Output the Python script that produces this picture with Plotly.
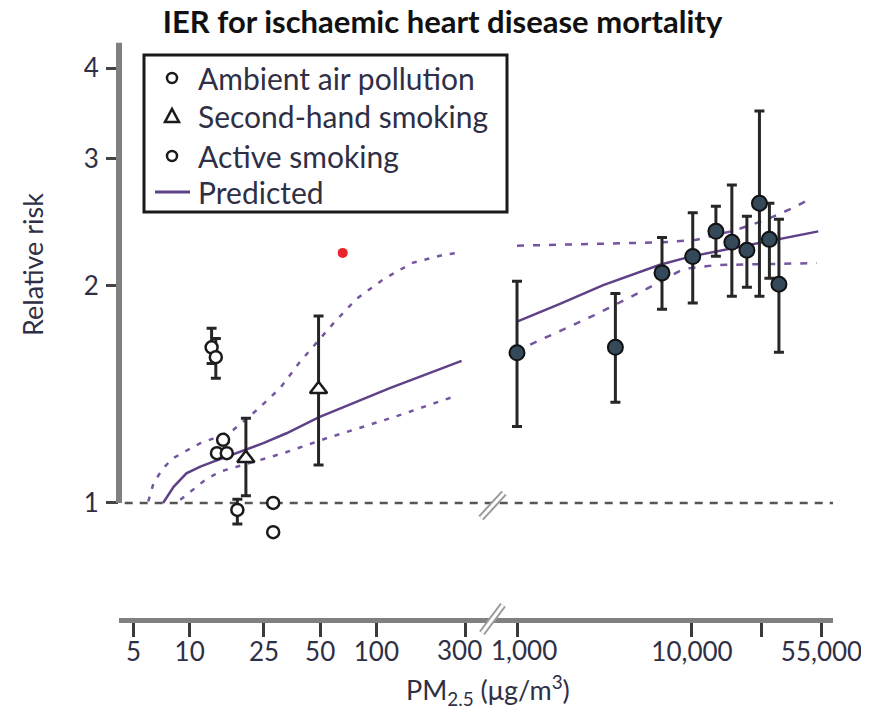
import math

import plotly.graph_objects as go

# --- data ---------------------------------------------------------------
# ambient air pollution (open circles), with and without visible CI
ambient_x = [13.1, 13.8, 18.0]
ambient_rr = [1.643, 1.592, 0.978]
ambient_hi = [1.746, 1.690, 1.012]
ambient_lo = [1.560, 1.488, 0.935]
ambient_nobar_x = [15.1, 14.0, 15.8, 28.0, 28.0]
ambient_nobar_rr = [1.223, 1.172, 1.172, 1.000, 0.911]

# second-hand smoking (open triangles)
shs_x = [20.0, 49.0]
shs_rr = [1.153, 1.437]
shs_hi = [1.310, 1.815]
shs_lo = [1.023, 1.129]

# active smoking (filled circles)
active_x = [1000, 3650, 6740, 10100, 13700, 16900, 20600, 24300, 27700, 31400]
active_rr = [1.614, 1.643, 2.083, 2.194, 2.378, 2.296, 2.239, 2.601, 2.318, 2.009]
active_hi = [2.028, 1.951, 2.331, 2.524, 2.576, 2.757, 2.495, 3.490, 2.601, 2.471]
active_lo = [1.276, 1.379, 1.855, 1.892, 2.197, 1.933, 1.990, 1.933, 2.048, 1.617]

# single red point
red_x = [66.0]
red_rr = [2.22]

# predicted IER, low-exposure segment
pred_left_x = [7.2, 8.2, 9.6, 11.4, 13.4, 18.6, 24.8, 33, 49, 118, 286]
pred_left_rr = [1.0, 1.053, 1.099, 1.123, 1.141, 1.178, 1.21, 1.249, 1.314, 1.442, 1.573]
upper_left_x = [6.0, 6.4, 7.1, 8.0, 9.4, 11.4, 14.2, 17.1, 22.9, 30.5, 39, 58.8, 77.8, 109, 156, 228, 280]
upper_left_rr = [1.005, 1.065, 1.111, 1.15, 1.178, 1.21, 1.235, 1.262, 1.345, 1.442, 1.569,
                 1.773, 1.915, 2.041, 2.151, 2.206, 2.222]
lower_left_x = [8.9, 10.3, 12.1, 14.5, 17.9, 25.8, 31.7, 54, 123, 264]
lower_left_rr = [1.01, 1.042, 1.076, 1.105, 1.123, 1.153, 1.172, 1.229, 1.314, 1.406]

# predicted IER, high-exposure segment
pred_right_x = [1000, 1760, 3110, 4830, 6500, 9750, 16200, 26200, 52700]
pred_right_rr = [1.783, 1.887, 2.003, 2.081, 2.136, 2.194, 2.249, 2.299, 2.378]
upper_right_x = [1000, 4660, 6700, 10600, 17300, 25700, 38500, 46300]
upper_right_rr = [2.272, 2.29, 2.296, 2.315, 2.383, 2.461, 2.567, 2.631]
lower_right_x = [1190, 2730, 5750, 8920, 13800, 51600]
lower_right_rr = [1.657, 1.817, 1.99, 2.109, 2.136, 2.149]

# axis ticks; the two labels next to the break are set as annotations so
# they can be nudged apart like in the original
left_ticks = [5, 10, 25, 50, 100, 300]
left_ticktext = ["5", "10", "25", "50", "100", ""]
right_ticks = [1000, 10000, 25000, 55000]
right_ticktext = ["", "10,000", "", "55,000"]
break_labels = [("x", 300, "300", -6), ("x2", 1000, "1,000", 7)]
y_ticks = [1, 2, 3, 4]

legend_labels = ["Ambient air pollution", "Second-hand smoking", "Active smoking", "Predicted"]

FONT = "Lato, 'Open Sans', sans-serif"
TXT = "#2f2f45"
SOLID = "#5f4188"
DASHED = "#7456a0"
BAR = "#262626"


def err(rr, hi, lo):
    return dict(type="data", symmetric=False,
                array=[h - r for r, h in zip(rr, hi)],
                arrayminus=[r - l for r, l in zip(rr, lo)],
                color=BAR, thickness=3, width=5)


def px_x(p):
    # reference pixel -> paper x
    return (p - 119) / 714


def px_y(p):
    # reference pixel -> paper y
    return (620 - p) / 578


fig = go.Figure()

# predicted curves (left segment)
fig.add_trace(go.Scatter(x=upper_left_x, y=upper_left_rr, mode="lines", showlegend=False,
                         line=dict(color=DASHED, width=2.5, dash="5px,8px")))
fig.add_trace(go.Scatter(x=lower_left_x, y=lower_left_rr, mode="lines", showlegend=False,
                         line=dict(color=DASHED, width=2.5, dash="5px,8px")))
fig.add_trace(go.Scatter(x=pred_left_x, y=pred_left_rr, mode="lines", showlegend=False,
                         line=dict(color=SOLID, width=2.5)))

# predicted curves (right segment)
fig.add_trace(go.Scatter(x=upper_right_x, y=upper_right_rr, mode="lines", showlegend=False,
                         xaxis="x2", line=dict(color=DASHED, width=2.5, dash="7px,9px")))
fig.add_trace(go.Scatter(x=lower_right_x, y=lower_right_rr, mode="lines", showlegend=False,
                         xaxis="x2", line=dict(color=DASHED, width=2.5, dash="7px,9px")))
fig.add_trace(go.Scatter(x=pred_right_x, y=pred_right_rr, mode="lines", showlegend=False,
                         xaxis="x2", line=dict(color=SOLID, width=2.5)))

# observations
fig.add_trace(go.Scatter(
    x=ambient_nobar_x, y=ambient_nobar_rr, mode="markers", showlegend=False,
    marker=dict(symbol="circle", size=12, color="white", line=dict(color="#1a1a1a", width=2.5))))
fig.add_trace(go.Scatter(
    x=ambient_x, y=ambient_rr, mode="markers", showlegend=False,
    error_y=err(ambient_rr, ambient_hi, ambient_lo),
    marker=dict(symbol="circle", size=12, color="white", line=dict(color="#1a1a1a", width=2.5))))
fig.add_trace(go.Scatter(
    x=shs_x, y=shs_rr, mode="markers", showlegend=False,
    error_y=err(shs_rr, shs_hi, shs_lo),
    marker=dict(symbol="triangle-up", size=15, color="white", line=dict(color="#1a1a1a", width=2.5))))
fig.add_trace(go.Scatter(
    x=red_x, y=red_rr, mode="markers", showlegend=False,
    marker=dict(symbol="circle", size=10, color="#e8262b")))
fig.add_trace(go.Scatter(
    x=active_x, y=active_rr, mode="markers", showlegend=False, xaxis="x2",
    error_y=err(active_rr, active_hi, active_lo),
    marker=dict(symbol="circle", size=15, color="#34495a", line=dict(color="#111111", width=2))))

# reference line at RR = 1 and visible part of the y axis
fig.add_shape(type="line", xref="paper", yref="y", x0=0.008, x1=1.0, y0=1, y1=1,
              line=dict(color="#555555", width=2.5, dash="8px,7px"), layer="below")
fig.add_shape(type="line", xref="paper", yref="y", x0=0, x1=0, y0=1, y1=4.34,
              line=dict(color="#808080", width=6))

# axis break marks
for (a, b, c, d) in [(482, 633, 503, 605), (481, 518, 504, 493)]:
    for col, w in [("#9a9a9a", 7), ("white", 3)]:
        fig.add_shape(type="line", xref="paper", yref="paper",
                      x0=px_x(a), y0=px_y(b), x1=px_x(c), y1=px_y(d),
                      line=dict(color=col, width=w))

# tick labels either side of the break (annotations on log axes take log10 positions)
for ax, val, text, shift in break_labels:
    fig.add_annotation(text=text, xref=ax, yref="paper", x=math.log10(val),
                       y=px_y(650), xshift=shift, xanchor="center", yanchor="middle",
                       showarrow=False, font=dict(family=FONT, size=26, color=TXT))

# legend box drawn by hand
fig.add_shape(type="rect", xref="paper", yref="paper",
              x0=px_x(144), x1=px_x(507), y0=px_y(212), y1=px_y(55),
              line=dict(color="#1a1a1a", width=3), fillcolor="white", layer="above")
rows = [78, 116, 156, 192]
sym_x = 172
for label, row in zip(legend_labels, rows):
    fig.add_annotation(text=label, xref="paper", yref="paper", x=px_x(196), y=px_y(row),
                       xanchor="left", yanchor="middle", showarrow=False,
                       font=dict(family=FONT, size=30, color=TXT))
for row in (rows[0], rows[2]):
    fig.add_shape(type="circle", xref="paper", yref="paper",
                  x0=px_x(sym_x - 5), x1=px_x(sym_x + 5), y0=px_y(row + 5), y1=px_y(row - 5),
                  line=dict(color="#1a1a1a", width=2.5), fillcolor="white", layer="above")
tri = "M {:.4f} {:.4f} L {:.4f} {:.4f} L {:.4f} {:.4f} Z".format(
    px_x(sym_x - 7), px_y(rows[1] + 6), px_x(sym_x + 7), px_y(rows[1] + 6),
    px_x(sym_x), px_y(rows[1] - 7))
fig.add_shape(type="path", xref="paper", yref="paper", path=tri,
              line=dict(color="#1a1a1a", width=2.5), fillcolor="white", layer="above")
fig.add_shape(type="line", xref="paper", yref="paper",
              x0=px_x(155), x1=px_x(190), y0=px_y(rows[3]), y1=px_y(rows[3]),
              line=dict(color=SOLID, width=3), layer="above")

fig.add_annotation(text="Relative risk", xref="paper", yref="paper", x=px_x(32), y=px_y(265),
                   xanchor="center", yanchor="middle",
                   textangle=-90, showarrow=False, font=dict(family=FONT, size=27, color=TXT))
fig.add_annotation(text="PM<sub>2.5</sub> (μg/m<sup>3</sup>)", xref="paper", yref="paper",
                   x=px_x(488), y=px_y(690), xanchor="center", yanchor="middle",
                   showarrow=False, font=dict(family=FONT, size=27, color=TXT))

axis_common = dict(type="log", showgrid=False, zeroline=False, ticks="outside",
                   ticklen=14, tickwidth=2.5, tickcolor="#3a3a3a",
                   showline=True, linecolor="#808080", linewidth=5,
                   anchor="free", position=0, automargin=False,
                   ticklabelstandoff=-7,
                   tickfont=dict(family=FONT, size=26, color=TXT))

# page body adds an 8px offset, so margins are shifted by that amount
fig.update_layout(
    width=869, height=710,
    margin=dict(l=111, r=44, t=34, b=98, autoexpand=False),
    plot_bgcolor="white", paper_bgcolor="white",
    showlegend=False,
    title=dict(text="<b>IER for ischaemic heart disease mortality</b>", x=0.5, xanchor="center",
               y=0.996, yanchor="top", font=dict(family=FONT, size=31, color="#111111")),
    xaxis=dict(domain=[0, 0.5224], range=[0.6213, 2.6192],
               tickvals=left_ticks, ticktext=left_ticktext, **axis_common),
    xaxis2=dict(domain=[0.5224, 1], range=[2.857, 4.806],
                tickvals=right_ticks, ticktext=right_ticktext, **axis_common),
    yaxis=dict(type="log", domain=[0.1298, 1], range=[-0.0582, 0.6385], anchor="x",
               showgrid=False, zeroline=False, showline=False, automargin=False,
               ticks="outside", ticklen=12, tickwidth=3, tickcolor="#444444",
               tickvals=y_ticks, ticktext=[str(v) for v in y_ticks],
               ticklabelstandoff=2,
               tickfont=dict(family=FONT, size=26, color=TXT)),
)

fig.write_html("out.html")
